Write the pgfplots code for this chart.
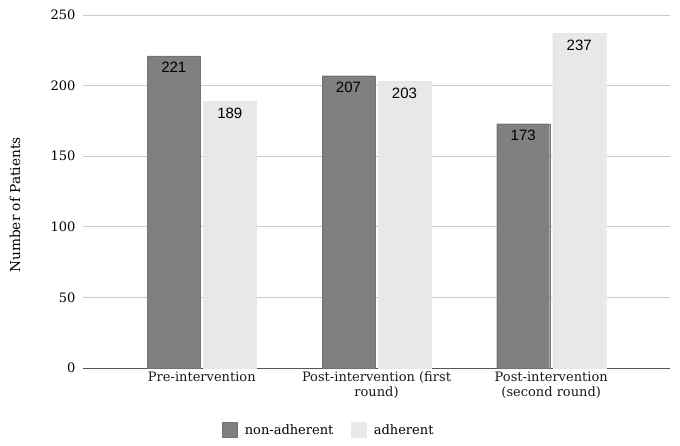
\documentclass[border=0pt]{standalone}
\usepackage{pgfplots}
\pgfplotsset{compat=1.18}
\usepackage{fontspec}
\setmainfont{DejaVu Serif}
\newfontfamily\barfont{Liberation Sans}
\definecolor{darkbar}{HTML}{808080}
\definecolor{lightbar}{HTML}{E8E8E8}
\definecolor{gridc}{HTML}{CCCCCC}
\definecolor{axisc}{HTML}{555555}
\begin{document}
\begin{tikzpicture}
\begin{axis}[
  scale only axis, width=587pt, height=353pt,
  at={(0,0)}, anchor=south west,
  ybar=3pt, bar width=53pt,
  xmin=-0.68, xmax=2.68, ymin=0, ymax=250,
  ytick={0,50,...,250},
  xtick={0,1,2},
  xticklabels={Pre-intervention, Post-intervention (first\\round), Post-intervention\\(second round)},
  xticklabel style={align=center, font=\fontsize{13}{15}\selectfont, text=black!90},
  yticklabel style={font=\fontsize{13}{15}\selectfont, xshift=-4pt, text=black},
  /pgf/number format/assume math mode=true,
  major tick length=0pt,
  axis x line*=bottom, axis y line*=left,
  x axis line style={axisc, line width=1pt, -},
  y axis line style={draw=none},
  ymajorgrids, grid style={gridc, line width=0.8pt},
  ylabel={Number of Patients},
  ylabel style={font=\fontsize{13.7}{16}\selectfont, at={(axis description cs:-0.116,0.462)}, anchor=center},
  nodes near coords,
  every node near coord/.append style={anchor=north, font=\barfont\fontsize{15}{17}\selectfont, text=black, yshift=-3pt},
  legend style={at={(0.419,-0.148)}, anchor=north, legend columns=2, draw=none, font=\fontsize{13}{15}\selectfont,
    /tikz/every odd column/.append style={column sep=5pt},
    /tikz/every even column/.append style={column sep=16pt}},
  legend image code/.code={\fill[#1] (0pt,-7pt) rectangle (15pt,8pt);},
  clip=false,
]
\addplot[fill=darkbar, draw=darkbar!90!black] coordinates {(0,221) (1,207) (2,173)};
\addplot[fill=lightbar, draw=lightbar] coordinates {(0,189) (1,203) (2,237)};
\legend{non-adherent, adherent}
\end{axis}
\pgfresetboundingbox
\path[use as bounding box] (-83pt,-77pt) rectangle (597pt,368pt);
\end{tikzpicture}
\end{document}
